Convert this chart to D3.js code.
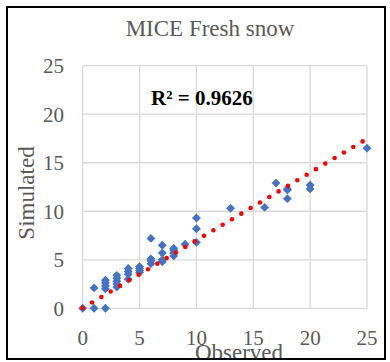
<!DOCTYPE html>
<meta charset="utf-8">
<style>
body { margin: 0; background: #fff; }
text { font-family: "Liberation Serif", "Times New Roman", serif; }
</style>
<body>
<script src="https://cdn.jsdelivr.net/npm/d3@7"></script>
<script>
// observed / simulated fresh snow
var observed  = [0, 1, 1, 2, 2, 2, 2, 2, 3, 3, 3, 3, 3, 4, 4, 4, 4, 5, 5, 5, 5,
                 6, 6, 6, 6, 7, 7, 7, 7, 8, 8, 8, 8, 9, 10, 10, 10, 13, 16, 17, 18, 18, 18, 20, 20, 25]
var simulated = [0, 0, 2.1, 0, 2.0, 2.3, 2.6, 2.9, 2.2, 2.5, 2.8, 3.1, 3.4, 3.0, 3.5, 3.8, 4.1, 3.7, 3.9, 4.1, 4.3,
                 4.6, 4.9, 5.1, 7.2, 4.8, 5.0, 5.7, 6.5, 5.4, 5.7, 6.0, 6.2, 6.6, 6.8, 8.2, 9.3, 10.3, 10.4, 12.9, 11.3, 12.2, 12.3, 12.3, 12.7, 16.5]
// linear trend line
var trendX = [0, 25]
var trendY = [0.02, 17.47]
var ticks = [0, 5, 10, 15, 20, 25]

var W = 390, H = 362
var svg = d3.select("body").append("svg").attr("width", W).attr("height", H)

var x = d3.scaleLinear().domain([0, 25]).range([82.7, 367])
var y = d3.scaleLinear().domain([0, 25]).range([308.3, 65.7])

// grid
svg.append("g").selectAll("line").data(ticks).enter().append("line")
  .attr("x1", x(0)).attr("x2", x(25))
  .attr("y1", d => y(d)).attr("y2", d => y(d))
  .attr("stroke", "#d9d9d9").attr("stroke-width", 1.3)
svg.append("g").selectAll("line").data(ticks).enter().append("line")
  .attr("y1", y(0)).attr("y2", y(25))
  .attr("x1", d => x(d)).attr("x2", d => x(d))
  .attr("stroke", "#d9d9d9").attr("stroke-width", 1.3)

// tick labels
svg.append("g").selectAll("text").data(ticks).enter().append("text")
  .attr("x", 64).attr("y", d => y(d) + 7.5)
  .attr("text-anchor", "end").attr("font-size", 21).attr("fill", "#595959")
  .text(d => d)
svg.append("g").selectAll("text").data(ticks).enter().append("text")
  .attr("x", d => x(d)).attr("y", 345)
  .attr("text-anchor", "middle").attr("font-size", 21).attr("fill", "#595959")
  .text(d => d)

// points
var pts = observed.map((d, i) => [d, simulated[i]])
svg.append("g").selectAll("path").data(pts).enter().append("path")
  .attr("d", d3.symbol().type(d3.symbolDiamond2).size(50))
  .attr("transform", d => "translate(" + x(d[0]) + "," + y(d[1]) + ")")
  .attr("fill", "#4472c4")

// trend line, round dots
svg.append("path")
  .datum(trendX.map((d, i) => [d, trendY[i]]))
  .attr("d", d3.line().x(d => x(d[0])).y(d => y(d[1])))
  .attr("fill", "none").attr("stroke", "#ff0000")
  .attr("stroke-width", 4.6).attr("stroke-linecap", "round")
  .attr("stroke-dasharray", "0 10.86")

// texts
svg.append("text").attr("x", 210).attr("y", 36).attr("text-anchor", "middle")
  .attr("font-size", 23).attr("fill", "#595959").text("MICE Fresh snow")
svg.append("text").attr("x", 151).attr("y", 105)
  .attr("font-size", 21).attr("font-weight", "bold").attr("fill", "#000").text("R² = 0.9626")
svg.append("text").attr("x", 239).attr("y", 360).attr("text-anchor", "middle")
  .attr("font-size", 23).attr("fill", "#595959").text("Observed")
svg.append("text").attr("transform", "translate(34,193) rotate(-90)").attr("text-anchor", "middle")
  .attr("font-size", 23).attr("fill", "#595959").text("Simulated")

// outer border
svg.append("rect").attr("x", 7).attr("y", 7).attr("width", 378).attr("height", 352)
  .attr("fill", "none").attr("stroke", "#000").attr("stroke-width", 2)
</script>
</body>
